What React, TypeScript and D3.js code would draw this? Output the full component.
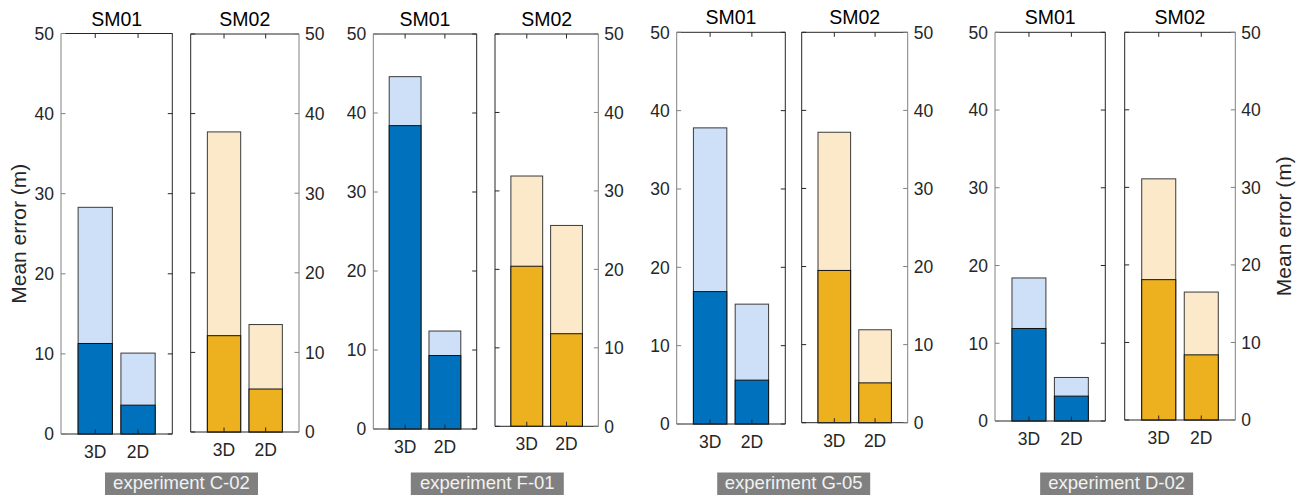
import React from "react";
import * as d3 from "d3";

// ---- data ----
const experiments = ["C-02", "F-01", "G-05", "D-02"];
const sensors = ["SM01", "SM02"];
const categories = ["3D", "2D"];
const yTicks = [0, 10, 20, 30, 40, 50];
// total (light) and lower part (dark) mean errors per experiment, [3D, 2D]
const sm01Total = [[28.3, 10.1], [44.6, 12.4], [37.8, 15.3], [18.4, 5.6]];
const sm01Part = [[11.3, 3.6], [38.4, 9.3], [16.9, 5.6], [11.9, 3.2]];
const sm02Total = [[37.7, 13.5], [31.9, 25.6], [37.2, 11.9], [31.1, 16.5]];
const sm02Part = [[12.1, 5.4], [20.4, 11.8], [19.5, 5.1], [18.1, 8.4]];

// ---- layout (pixel boxes of each panel: left, right, top, bottom) ----
const panelBoxes = [
  [[61, 172.3, 33.5, 434], [190.7, 299, 34, 432]],
  [[373.3, 476.7, 34, 429], [495, 598.3, 34, 426.3]],
  [[676.7, 785.3, 32.3, 424], [801.7, 907.7, 32.3, 422.7]],
  [[995, 1105.3, 32.3, 421], [1124.7, 1235.3, 32.3, 420]],
];

const FONT = "'Liberation Sans', Arial, Helvetica, sans-serif";
const TXT = "#262626";
const BOX = "#262626";
const AXIS_LIGHT = "#808080";
const colors = {
  SM01: { light: "#CEE0F7", dark: "#0072BD" },
  SM02: { light: "#FCE9CA", dark: "#EDB120" },
};
const TICK = 4.5;

function Panel({ gi, si }: { gi: number; si: number }) {
  const [l, r, t, b] = panelBoxes[gi][si];
  const sensor = sensors[si];
  const totals = si === 0 ? sm01Total[gi] : sm02Total[gi];
  const parts = si === 0 ? sm01Part[gi] : sm02Part[gi];
  const x = d3.scaleLinear().domain([0.2, 2.8]).range([l, r]);
  const y = d3.scaleLinear().domain([0, 50]).range([b, t]);
  const bw = x(0.8) - x(0);
  const col = colors[sensor as "SM01" | "SM02"];
  const axisLeft = si === 0; // labels on left for SM01, right for SM02
  const labeledX = axisLeft ? l : r;
  return (
    <g>
      {categories.map((c, i) => {
        const cx = x(i + 1);
        return (
          <g key={c}>
            <rect
              x={cx - bw / 2}
              y={y(totals[i])}
              width={bw}
              height={y(0) - y(totals[i])}
              fill={col.light}
              stroke="#3a3a3a"
              strokeWidth={1}
            />
            <rect
              x={cx - bw / 2}
              y={y(parts[i])}
              width={bw}
              height={y(0) - y(parts[i])}
              fill={col.dark}
              stroke="#111"
              strokeWidth={1}
            />
          </g>
        );
      })}
      {/* box */}
      <line x1={l} x2={r} y1={t} y2={t} stroke={BOX} strokeWidth={1} />
      <line x1={l} x2={r} y1={b} y2={b} stroke={BOX} strokeWidth={1} />
      <line x1={l} x2={l} y1={t} y2={b} stroke={axisLeft ? AXIS_LIGHT : BOX} strokeWidth={1} />
      <line x1={r} x2={r} y1={t} y2={b} stroke={axisLeft ? BOX : AXIS_LIGHT} strokeWidth={1} />
      {/* y ticks both sides */}
      {yTicks.map((v) => (
        <g key={v}>
          <line x1={l} x2={l + TICK} y1={y(v)} y2={y(v)} stroke={axisLeft ? AXIS_LIGHT : BOX} />
          <line x1={r} x2={r - TICK} y1={y(v)} y2={y(v)} stroke={axisLeft ? BOX : AXIS_LIGHT} />
          <text
            x={axisLeft ? labeledX - 7 : labeledX + 6}
            y={y(v)}
            dy="0.36em"
            textAnchor={axisLeft ? "end" : "start"}
            fontSize={17.5}
            fontFamily={FONT}
            fill={TXT}
          >
            {v}
          </text>
        </g>
      ))}
      {/* x ticks */}
      {categories.map((c, i) => (
        <g key={c}>
          <line x1={x(i + 1)} x2={x(i + 1)} y1={b} y2={b - TICK} stroke={BOX} />
          <line x1={x(i + 1)} x2={x(i + 1)} y1={t} y2={t + TICK} stroke={BOX} />
          <text
            x={x(i + 1)}
            y={b + 24}
            textAnchor="middle"
            fontSize={17.5}
            fontFamily={FONT}
            fill={TXT}
          >
            {c}
          </text>
        </g>
      ))}
      <text
        x={(l + r) / 2}
        y={t - 8}
        textAnchor="middle"
        fontSize={19.5}
        fontFamily={FONT}
        fill="#000"
      >
        {sensor}
      </text>
    </g>
  );
}

export default function App() {
  const first = panelBoxes[0][0];
  const last = panelBoxes[3][1];
  return (
    <svg
      width={1299}
      height={495}
      style={{ position: "absolute", left: 0, top: 0, background: "#fff" }}
    >
      <rect x={0} y={0} width={1299} height={495} fill="#fff" />
      {experiments.map((e, gi) => {
        const gl = panelBoxes[gi][0][0];
        const gr = panelBoxes[gi][1][1];
        const cx = (gl + gr) / 2 + 1.5;
        const w = 153;
        return (
          <g key={e}>
            <Panel gi={gi} si={0} />
            <Panel gi={gi} si={1} />
            <rect x={cx - w / 2} y={472.5} width={w} height={23} fill="#808080" />
            <text
              x={cx}
              y={488.5}
              textAnchor="middle"
              fontSize={18.5}
              fontFamily={FONT}
              fill="#F2F2F2"
            >
              {"experiment " + e}
            </text>
          </g>
        );
      })}
      <text
        transform={`translate(18,${(first[2] + first[3]) / 2}) rotate(-90)`}
        textAnchor="middle"
        dy="0.36em"
        fontSize={21}
        fontFamily={FONT}
        fill={TXT}
      >
        Mean error (m)
      </text>
      <text
        transform={`translate(1283,${(last[2] + last[3]) / 2}) rotate(-90)`}
        textAnchor="middle"
        dy="0.36em"
        fontSize={21}
        fontFamily={FONT}
        fill={TXT}
      >
        Mean error (m)
      </text>
    </svg>
  );
}
